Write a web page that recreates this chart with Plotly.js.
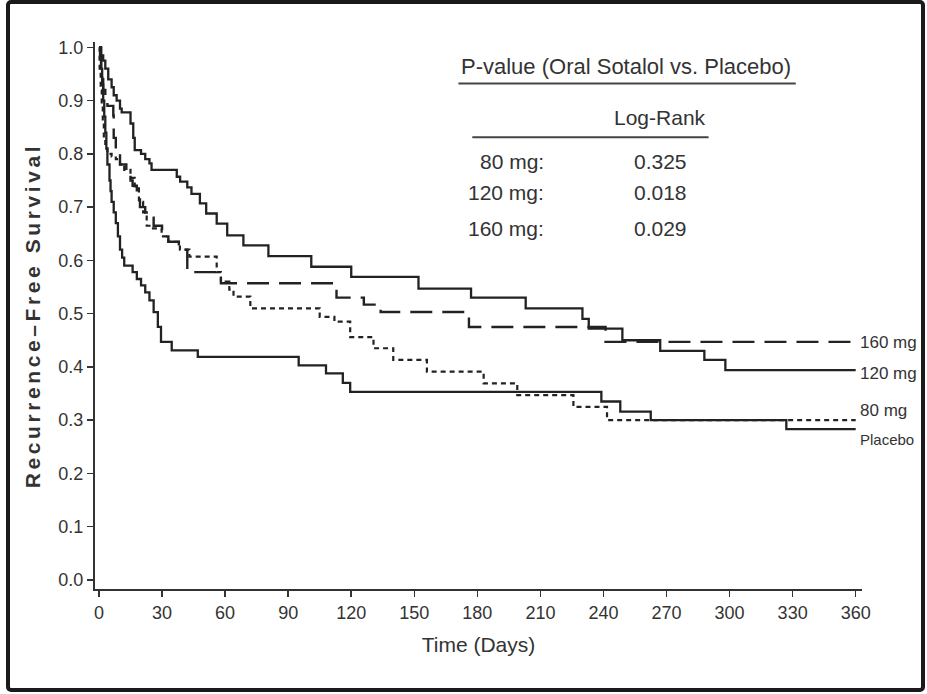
<!DOCTYPE html>
<html>
<head>
<meta charset="utf-8">
<script src="https://cdn.plot.ly/plotly-3.0.1.min.js"></script>
<style>
html,body{margin:0;padding:0;background:#fff;}
#wrap{position:relative;width:927px;height:694px;}
#chart{position:absolute;left:0;top:0;width:927px;height:694px;}
#frame{position:absolute;left:6px;top:0px;width:911px;height:684px;border:4px solid #1a1a1a;border-radius:5px;pointer-events:none;}
</style>
</head>
<body>
<div id="wrap"><div id="chart"></div><div id="frame"></div></div>
<script>
// Kaplan-Meier step data (days, recurrence-free survival)
const placeboDays = [0,1,1.5,2,2.5,3,3.5,4,5,5.5,6,7,8,9,10,11,12,16,18,20,22,24,26,28,29.5,34.6,47,95,108,116,119.5,239,248,262.5,327,360];
const placeboSurv = [1.0,0.96,0.93,0.90,0.87,0.84,0.81,0.78,0.75,0.73,0.71,0.69,0.67,0.645,0.62,0.605,0.59,0.578,0.565,0.553,0.54,0.525,0.503,0.475,0.447,0.431,0.419,0.403,0.388,0.37,0.353,0.335,0.316,0.30,0.283,0.283];

const mg80Days = [0,0.3,0.8,1.3,1.8,2.3,3,4,6,8,10,12,15,17,19,21,22.7,25,29.8,33,38.5,43,56,58,62,64,72,105,112,119.5,130.6,140,156,183,199,225.7,241.7,360];
const mg80Surv = [1.0,0.96,0.92,0.89,0.86,0.83,0.81,0.80,0.795,0.79,0.78,0.77,0.755,0.735,0.71,0.69,0.665,0.66,0.645,0.635,0.62,0.607,0.578,0.56,0.545,0.532,0.51,0.494,0.485,0.456,0.435,0.413,0.391,0.369,0.347,0.325,0.30,0.30];

const mg120Days = [0,1,2,3,4.4,6,7,8.4,10,10.8,15,16.3,17,20,22,24,25,37,38.6,42,44,48,51,56,61,68.7,80.6,101,120,152,177,203,230,233,249,267,288,298,360];
const mg120Surv = [1.0,0.985,0.975,0.96,0.94,0.925,0.91,0.90,0.885,0.878,0.857,0.83,0.807,0.80,0.79,0.782,0.77,0.757,0.748,0.737,0.725,0.707,0.688,0.669,0.647,0.628,0.608,0.588,0.569,0.547,0.53,0.51,0.49,0.472,0.45,0.43,0.413,0.394,0.394];

const mg160Days = [0,0.5,1,1.5,2,3,4,6.8,7,8,10,13,15,16,18,19.5,22,24,26,30,33,38,42,58,113,126,134,176,241,360];
const mg160Surv = [1.0,0.98,0.96,0.94,0.92,0.90,0.89,0.872,0.83,0.80,0.78,0.765,0.75,0.74,0.72,0.70,0.69,0.68,0.665,0.645,0.635,0.62,0.578,0.557,0.53,0.517,0.503,0.475,0.447,0.447];

const seriesLabels = ["160 mg","120 mg","80 mg","Placebo"];
const labelY = [0.445,0.388,0.319,0.263];

const tableTitle = "P-value (Oral Sotalol vs. Placebo)";
const tableHeader = "Log-Rank";
const doseRows = ["80 mg:","120 mg:","160 mg:"];
const pValues = ["0.325","0.018","0.029"];
const rowY = [0.785,0.727,0.659];

const yTicks = [0,0.1,0.2,0.3,0.4,0.5,0.6,0.7,0.8,0.9,1.0];
const xTicks = [0,30,60,90,120,150,180,210,240,270,300,330,360];

const lineColor = "#222";
const txt = "#333";
const fam = "Liberation Sans, Arial, sans-serif";

function tr(x, y, dash, w) {
  return {x: x, y: y, type: "scatter", mode: "lines", line: {shape: "hv", color: lineColor, width: w, dash: dash}, hoverinfo: "skip", showlegend: false};
}

const data = [
  tr(placeboDays, placeboSurv, "solid", 2.3),
  tr(mg120Days, mg120Surv, "solid", 2.3),
  tr(mg160Days, mg160Surv, "22px,10px", 2.4),
  tr(mg80Days, mg80Surv, "5px,4px", 2.2)
];

const annotations = [];
seriesLabels.forEach((t, i) => {
  annotations.push({x: 361, y: labelY[i], xref: "x", yref: "y", text: t, showarrow: false, xanchor: "left", yanchor: "middle",
    font: {family: fam, size: t === "Placebo" ? 15 : 17, color: txt}});
});
annotations.push({x: 250.5, y: 0.964, xref: "x", yref: "y", text: tableTitle, showarrow: false, xanchor: "center", yanchor: "middle", font: {family: fam, size: 22, color: txt}});
annotations.push({x: 267, y: 0.868, xref: "x", yref: "y", text: tableHeader, showarrow: false, xanchor: "center", yanchor: "middle", font: {family: fam, size: 21, color: txt}});
doseRows.forEach((t, i) => {
  annotations.push({x: 212.5, y: rowY[i], xref: "x", yref: "y", text: t, showarrow: false, xanchor: "right", yanchor: "middle", font: {family: fam, size: 21, color: txt}});
  annotations.push({x: 267, y: rowY[i], xref: "x", yref: "y", text: pValues[i], showarrow: false, xanchor: "center", yanchor: "middle", font: {family: fam, size: 21, color: txt}});
});

const shapes = [
  {type: "line", xref: "x", yref: "y", x0: 171, x1: 331.5, y0: 0.932, y1: 0.932, line: {color: "#444", width: 2}},
  {type: "line", xref: "x", yref: "y", x0: 177.6, x1: 290, y0: 0.831, y1: 0.831, line: {color: "#444", width: 2}}
];

const layout = {
  width: 927, height: 694,
  margin: {l: 95, r: 65, t: 42, b: 105},
  paper_bgcolor: "#fff", plot_bgcolor: "#fff",
  showlegend: false,
  xaxis: {
    range: [-1.9, 363], tickvals: xTicks, ticktext: xTicks.map(String),
    showgrid: false, zeroline: false, showline: true, linecolor: "#333", linewidth: 2,
    ticks: "outside", ticklen: 6, tickcolor: "#333", tickwidth: 1.5,
    tickfont: {family: fam, size: 18, color: txt},
    title: {text: "Time (Days)", font: {family: fam, size: 21, color: txt}, standoff: 16}
  },
  yaxis: {
    range: [-0.017, 1.01], tickvals: yTicks, ticktext: yTicks.map(v => v.toFixed(1)),
    showgrid: false, zeroline: false, showline: true, linecolor: "#333", linewidth: 2,
    ticks: "outside", ticklen: 6, tickcolor: "#333", tickwidth: 1.5,
    tickfont: {family: fam, size: 18, color: txt},
    title: {text: "<b>Recurrence–Free Survival</b>", font: {family: fam, size: 21, color: txt}, standoff: 12}
  },
  annotations: annotations,
  shapes: shapes
};

Plotly.newPlot("chart", data, layout, {displayModeBar: false, staticPlot: true}).then(function (gd) {
  var t = gd.querySelector(".ytitle");
  if (t) { t.style.letterSpacing = "3.6px"; }
});
</script>
</body>
</html>
